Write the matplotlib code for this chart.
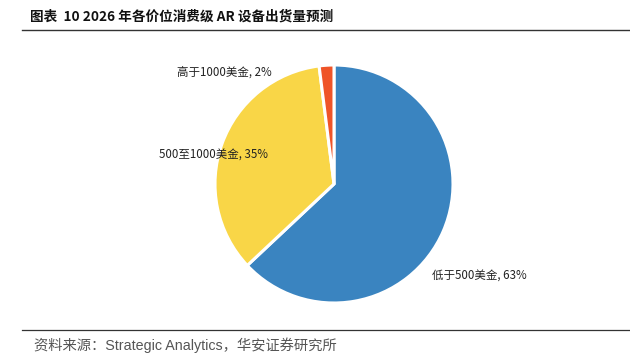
import matplotlib
matplotlib.use("Agg")
import matplotlib.pyplot as plt
from matplotlib.lines import Line2D

plt.rcParams['font.family'] = ['Noto Sans CJK SC', 'DejaVu Sans']

categories = ['低于500美金', '500至1000美金', '高于1000美金']
shares = [63, 35, 2]
colors = ['#3A84C0', '#F9D647', '#EF5428']

W, H = 630, 361
fig = plt.figure(figsize=(W / 100, H / 100), dpi=100)

# pie axes: center (334, 184 from top), radius ~119 px
cx, cy, r = 334, 361 - 184, 119
ax = fig.add_axes([(cx - r) / W, (cy - r) / H, 2 * r / W, 2 * r / H])
wedges, _ = ax.pie(shares, colors=colors, startangle=90, counterclock=False,
                   radius=1.0, wedgeprops=dict(edgecolor='white', linewidth=2.2))
ax.set_xlim(-1, 1)
ax.set_ylim(-1, 1)
ax.set_aspect('equal')
ax.axis('off')

label_pos = [(0.82, -0.775, 'left'), (-0.555, 0.24, 'right'), (-0.52, 0.94, 'right')]
for cat, val, (x, y, ha) in zip(categories, shares, label_pos):
    ax.text(x, y, f'{cat}, {val}%', ha=ha, va='center', fontsize=8.3,
            color='#222222', clip_on=False)

# title
fig.text(30 / W, 1 - 17 / H, '图表  10 2026 年各价位消费级 AR 设备出货量预测',
         fontsize=9.8, fontweight='bold', ha='left', va='center', color='#111111')
fig.add_artist(Line2D([22 / W, 1.0], [1 - 30 / H, 1 - 30 / H], color='#333333', lw=1.0,
                      transform=fig.transFigure))
fig.add_artist(Line2D([22 / W, 1.0], [1 - 330 / H, 1 - 330 / H], color='#333333', lw=0.9,
                      transform=fig.transFigure))
fig.text(34 / W, 1 - 345 / H, '资料来源：Strategic Analytics，华安证券研究所',
         fontsize=10.3, ha='left', va='center', color='#555555',
         family=['Liberation Sans', 'Noto Sans CJK SC'])

fig.savefig('out.png', dpi=100)
